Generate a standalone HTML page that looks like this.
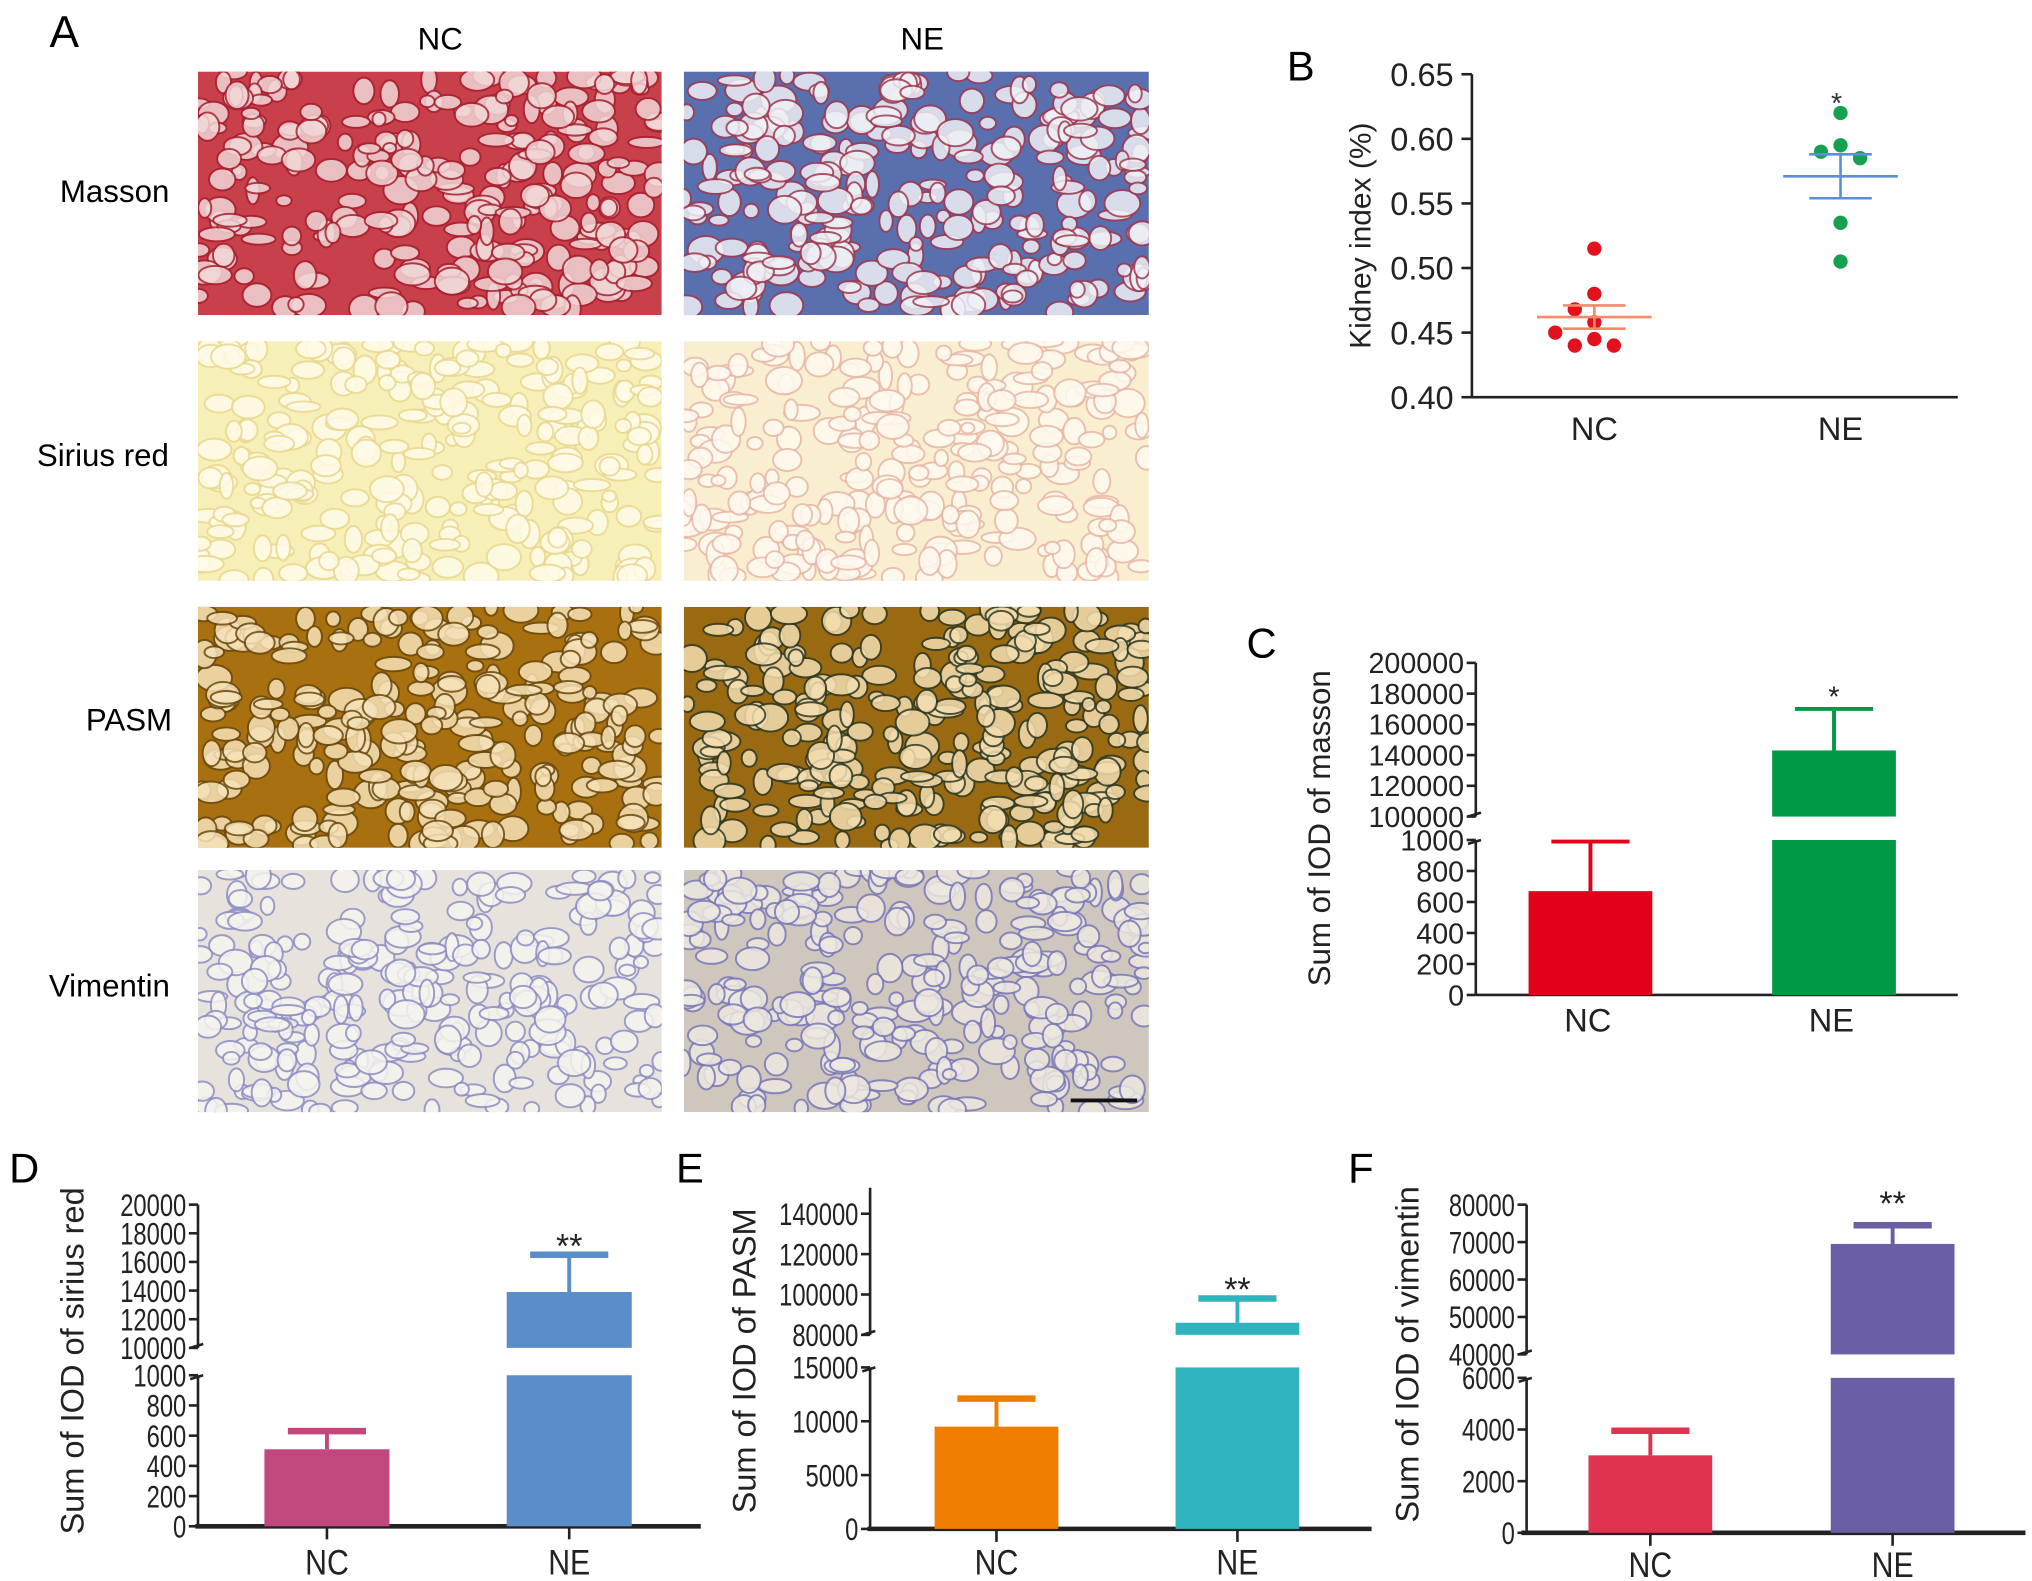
<!DOCTYPE html>
<html><head><meta charset="utf-8"><style>
html,body{margin:0;padding:0;background:#fff;}
svg{display:block;font-family:"Liberation Sans",Arial,sans-serif;}
</style></head><body>
<svg id="fig" width="2032" height="1581" viewBox="0 0 1560 1214" preserveAspectRatio="none" xmlns="http://www.w3.org/2000/svg">
<rect width="1560" height="1214" fill="#fff"/>
<g id="panelA">
<text x="38" y="36" font-size="34">A</text>
<text x="338" y="38" font-size="24" text-anchor="middle">NC</text>
<text x="708" y="38" font-size="24" text-anchor="middle">NE</text>
<text x="88" y="155" font-size="24" text-anchor="middle">Masson</text>
<text x="79" y="358" font-size="24" text-anchor="middle">Sirius red</text>
<text x="99" y="561" font-size="24" text-anchor="middle">PASM</text>
<text x="84" y="765" font-size="24" text-anchor="middle">Vimentin</text>
<g id="tiles"></g>
</g>
<g id="panelB"></g>
<g id="panelC"></g>
<g id="panelD"></g>
<g id="panelE"></g>
<g id="panelF"></g>
</svg>
<script>
// ---------- Chart data ----------
const categories = ['NC', 'NE'];
// Panel B: kidney index (%)
const bTicks = [0.40, 0.45, 0.50, 0.55, 0.60, 0.65];
const bPointsNC = [0.515, 0.480, 0.468, 0.458, 0.445, 0.440, 0.440, 0.450];
const bPointsNE = [0.620, 0.595, 0.590, 0.585, 0.535, 0.505];
const bMeans = [0.462, 0.571];
const bSems = [0.009, 0.017];
// Panel C: masson
const cMeans = [670, 143000];
const cErrTop = [990, 170000];
const cLowTicks = [0, 200, 400, 600, 800, 1000];
const cUpTicks = [100000, 120000, 140000, 160000, 180000, 200000];
// Panel D: sirius red
const dMeans = [510, 13900];
const dErrTop = [630, 16500];
const dLowTicks = [0, 200, 400, 600, 800, 1000];
const dUpTicks = [10000, 12000, 14000, 16000, 18000, 20000];
// Panel E: PASM
const eMeans = [9500, 86000];
const eErrTop = [12100, 98000];
const eLowTicks = [0, 5000, 10000, 15000];
const eUpTicks = [80000, 100000, 120000, 140000];
// Panel F: vimentin
const fMeans = [3000, 69500];
const fErrTop = [3950, 74500];
const fLowTicks = [0, 2000, 4000, 6000];
const fUpTicks = [40000, 50000, 60000, 70000, 80000];

const NS = 'http://www.w3.org/2000/svg';
function mk(parent, tag, attrs, text) {
  const e = document.createElementNS(NS, tag);
  for (const k in attrs) e.setAttribute(k, attrs[k]);
  if (text !== undefined) e.textContent = text;
  parent.appendChild(e);
  return e;
}

// ---------- Panel A textures ----------
let seed = 7;
function rnd() { seed = (seed * 16807) % 2147483647; return (seed - 1) / 2147483646; }
const tiles = document.getElementById('tiles');
const cols = [152, 525], colW = [356, 357];
const rows = [[55, 187], [262, 184], [466, 185], [668, 186]];
const styles = [
  [{bg:'#c8404a', fg:'#f1d6d6', ed:'#a82030'}, {bg:'#5a6fae', fg:'#eef0f6', ed:'#a03a52'}],
  [{bg:'#f7efb8', fg:'#fffbe8', ed:'#e9d890'}, {bg:'#f9efd0', fg:'#fffaf0', ed:'#e8b8a8'}],
  [{bg:'#a8700e', fg:'#f6e2b8', ed:'#6a4a10'}, {bg:'#9a6a12', fg:'#f4deb0', ed:'#2f3a24'}],
  [{bg:'#e7e3dc', fg:'#f6f4ef', ed:'#8e8ec4'}, {bg:'#cfc6bd', fg:'#ede8e0', ed:'#7a78b8'}]
];
const tileNames = ['masson', 'sirius-red', 'pasm', 'vimentin'];
rows.forEach((r, ri) => {
  cols.forEach((cx, ci) => {
    const st = styles[ri][ci];
    const g = mk(tiles, 'g', {});
    
    
    const cid = 'clip' + ri + ci;
    const cp = mk(g, 'clipPath', {id: cid});
    mk(cp, 'rect', {x: cx, y: r[0], width: colW[ci], height: r[1]});
    const inner = mk(g, 'g', {'clip-path': 'url(#' + cid + ')'});
    mk(inner, 'rect', {x: cx, y: r[0], width: colW[ci], height: r[1], fill: st.bg});
    for (let i = 0; i < 260; i++) {
      const x = cx + rnd() * colW[ci], y = r[0] + rnd() * r[1];
      const rx = 5 + rnd() * 9, ry = 4 + rnd() * 7;
      mk(inner, 'ellipse', {cx: x, cy: y, rx: rx, ry: ry, fill: st.fg, stroke: st.ed, 'stroke-width': 1.5, opacity: 0.85});
    }
  });
});
const sb = mk(tiles, 'line', {x1: 822, y1: 845, x2: 873, y2: 845, stroke: '#111', 'stroke-width': 3});



// ---------- Panel B ----------
(function () {
  const g = document.getElementById('panelB');
  const x0 = 1130, y0 = 305, y1 = 57, xEnd = 1503;
  const xc = [1224, 1413];
  const vmin = bTicks[0], vmax = bTicks[bTicks.length - 1];
  const ys = v => y0 - (v - vmin) / (vmax - vmin) * (y0 - y1);
  const lbl = mk(g, 'text', {x: 988, y: 62, 'font-size': 32}, 'B');
  
  
  const ax = mk(g, 'path', {d: `M${x0},${y1} V${y0} H${xEnd}`, stroke: '#222', 'stroke-width': 2, fill: 'none'});
  
  
  bTicks.forEach(t => {
    mk(g, 'line', {x1: x0 - 8, x2: x0, y1: ys(t), y2: ys(t), stroke: '#222', 'stroke-width': 2});
    const tl = mk(g, 'text', {x: x0 - 14, y: ys(t) + 9, 'font-size': 25, 'text-anchor': 'end', fill: '#222'}, t.toFixed(2));
    
    
  });
  categories.forEach((c, i) => {
    const tl = mk(g, 'text', {x: xc[i], y: 338, 'font-size': 25, 'text-anchor': 'middle', fill: '#222'}, c);
    
    
  });
  const yt = mk(g, 'text', {x: 0, y: 0, 'font-size': 23, 'text-anchor': 'middle', fill: '#222', transform: `translate(1052,181) rotate(-90)`}, 'Kidney index (%)');
  
  
  const sets = [bPointsNC, bPointsNE];
  const pc = ['#e3111e', '#16a050'], lc = ['#f08a6a', '#5a8fd8'];
  sets.forEach((pts, i) => {
    const placed = [];
    pts.forEach(v => {
      const y = ys(v);
      const order = [0, -1, 1, -2, 2, 3, -3];
      let x = xc[i];
      for (const o of order) {
        const tx = xc[i] + o * 15;
        if (!placed.some(p => Math.hypot(p[0] - tx, p[1] - y) < 12)) { x = tx; break; }
      }
      placed.push([x, y]);
      const d = mk(g, 'circle', {cx: x, cy: y, r: 5.5, fill: pc[i]});
      
      
    });
    const m = ys(bMeans[i]), hi = ys(bMeans[i] + bSems[i]), lo = ys(bMeans[i] - bSems[i]);
    const eg = mk(g, 'g', {stroke: lc[i], 'stroke-width': 2});
    
    
    mk(eg, 'line', {x1: xc[i] - 44, x2: xc[i] + 44, y1: m, y2: m});
    mk(eg, 'line', {x1: xc[i] - 24, x2: xc[i] + 24, y1: hi, y2: hi});
    mk(eg, 'line', {x1: xc[i] - 24, x2: xc[i] + 24, y1: lo, y2: lo});
    mk(eg, 'line', {x1: xc[i], x2: xc[i], y1: hi, y2: lo});
  });
  const st = mk(g, 'text', {x: xc[1] - 3, y: ys(0.63) + 10, 'font-size': 22, 'text-anchor': 'middle', fill: '#333'}, '*');
  
  
})();

// ---------- Broken-axis bar panels ----------
function brokenPanel(o) {
  const g = document.getElementById(o.id);
  const L = o.lowTicks, U = o.upTicks;
  const lowMax = L[L.length - 1], upMin = U[0], upMax = U[U.length - 1];
  const yLow = v => o.yZero - v / lowMax * (o.yZero - o.yLowTop);
  const yUp = v => o.yUpBot - (v - upMin) / (upMax - upMin) * (o.yUpBot - o.yUpTop);
  const ymap = v => v <= lowMax ? yLow(v) : yUp(Math.max(v, upMin));
  const condensed = o.condensed;
  function txt(x, y, s, size, anchor, name, sx) {
    const attrs = {x: x, y: y, 'font-size': size, 'text-anchor': anchor, fill: '#222'};
    const t = mk(g, 'text', attrs, s);
    if (condensed && sx !== 1) {
      t.setAttribute('transform', `translate(${x},0) scale(${sx},1) translate(${-x},0)`);
    }
    
    
    return t;
  }
  const pl = mk(g, 'text', {x: o.labelPos[0], y: o.labelPos[1], 'font-size': 32}, o.label);
  
  
  const ax = mk(g, 'g', {stroke: '#222', 'stroke-width': 2, fill: 'none'});
  
  
  mk(ax, 'line', {x1: o.x0, x2: o.x0, y1: o.axisTop, y2: o.yUpBot});
  mk(ax, 'line', {x1: o.x0, x2: o.x0, y1: o.yLowTop, y2: o.yZero});
  mk(ax, 'line', {x1: o.x0 - 6, x2: o.x0 + 4, y1: o.yUpBot, y2: o.yUpBot - 3});
  mk(ax, 'line', {x1: o.x0 - 6, x2: o.x0 + 4, y1: o.yLowTop + 3, y2: o.yLowTop});
  mk(ax, 'line', {x1: o.xAxisStart, x2: o.xEnd, y1: o.yZero, y2: o.yZero, 'stroke-width': condensed ? 3.5 : 2});
  const lab = v => String(v);
  L.forEach(t => {
    mk(ax, 'line', {x1: o.x0 - 7, x2: o.x0, y1: yLow(t), y2: yLow(t)});
    txt(o.x0 - 9, yLow(t) + o.fs * 0.36, lab(t), o.fs, 'end', o.label.toLowerCase() + '-y-tick-label', 0.76);
  });
  U.forEach(t => {
    mk(ax, 'line', {x1: o.x0 - 7, x2: o.x0, y1: yUp(t), y2: yUp(t)});
    txt(o.x0 - 9, yUp(t) + o.fs * 0.36, lab(t), o.fs, 'end', o.label.toLowerCase() + '-y-tick-label', 0.76);
  });
  o.means.forEach((v, i) => {
    const cx = o.xc[i], bw = o.barW;
    const bg = mk(g, 'g', {fill: o.colors[i]});
    
    
    const lowTopV = Math.min(v, lowMax);
    mk(bg, 'rect', {x: cx - bw / 2, y: yLow(lowTopV), width: bw, height: o.yZero - yLow(lowTopV)});
    if (v > lowMax) {
      mk(bg, 'rect', {x: cx - bw / 2, y: yUp(v), width: bw, height: o.yUpBot - yUp(v)});
    }
    const top = ymap(o.err[i]);
    const eb = mk(g, 'g', {stroke: o.colors[i], 'stroke-width': 3});
    
    
    mk(eb, 'line', {x1: cx, x2: cx, y1: ymap(v), y2: top});
    mk(eb, 'line', {x1: cx - 30, x2: cx + 30, y1: top, y2: top, 'stroke-width': condensed ? 5 : 3});
    if (condensed) mk(ax, 'line', {x1: cx, x2: cx, y1: o.yZero, y2: o.yZero + 10});
    txt(cx + (condensed ? 0 : -2), o.xLabY, categories[i], o.xfs, 'middle', o.label.toLowerCase() + '-x-tick-label', 0.86);
  });
  txt(o.xc[1], ymap(o.err[1]) - o.starGap, o.star, condensed ? 26 : 22, 'middle', o.label.toLowerCase() + '-significance-mark', 1);
  const yt = mk(g, 'text', {x: 0, y: 0, 'font-size': o.titleFs, 'text-anchor': 'middle', fill: '#222',
    transform: `translate(${o.titlePos[0]},${o.titlePos[1]}) rotate(-90)`}, o.title);
  
  
}

brokenPanel({id: 'panelC', label: 'C', labelPos: [957, 505], x0: 1133, xAxisStart: 1133, xEnd: 1503,
  yZero: 764, yLowTop: 645, yUpBot: 627, yUpTop: 509, axisTop: 509,
  lowTicks: cLowTicks, upTicks: cUpTicks, means: cMeans, err: cErrTop,
  xc: [1221, 1408], barW: 95, colors: ['#e3001b', '#009a44'], fs: 22, xfs: 25, xLabY: 792,
  condensed: false, star: '*', starGap: 2, title: 'Sum of IOD of masson', titleFs: 24, titlePos: [1021, 636]});

brokenPanel({id: 'panelD', label: 'D', labelPos: [7, 908], x0: 152, xAxisStart: 150, xEnd: 538,
  yZero: 1172, yLowTop: 1056, yUpBot: 1035, yUpTop: 925, axisTop: 925,
  lowTicks: dLowTicks, upTicks: dUpTicks, means: dMeans, err: dErrTop,
  xc: [251, 437], barW: 96, colors: ['#c0487c', '#5b8dc9'], fs: 24, xfs: 27, xLabY: 1209,
  condensed: true, star: '**', starGap: -2, title: 'Sum of IOD of sirius red', titleFs: 25, titlePos: [64, 1045]});

brokenPanel({id: 'panelE', label: 'E', labelPos: [519, 908], x0: 668, xAxisStart: 666, xEnd: 1053,
  yZero: 1174, yLowTop: 1050, yUpBot: 1025, yUpTop: 932, axisTop: 912,
  lowTicks: eLowTicks, upTicks: eUpTicks, means: eMeans, err: eErrTop,
  xc: [765, 950], barW: 95, colors: ['#ef7d00', '#2fb3be'], fs: 24, xfs: 27, xLabY: 1209,
  condensed: true, star: '**', starGap: -2, title: 'Sum of IOD of PASM', titleFs: 25, titlePos: [580, 1045]});

brokenPanel({id: 'panelF', label: 'F', labelPos: [1035, 908], x0: 1172, xAxisStart: 1168, xEnd: 1555,
  yZero: 1177, yLowTop: 1058, yUpBot: 1040, yUpTop: 925, axisTop: 925,
  lowTicks: fLowTicks, upTicks: fUpTicks, means: fMeans, err: fErrTop,
  xc: [1267, 1453], barW: 95, colors: ['#e0334f', '#6a5fa6'], fs: 24, xfs: 27, xLabY: 1211,
  condensed: true, star: '**', starGap: 8, title: 'Sum of IOD of vimentin', titleFs: 25, titlePos: [1089, 1040]});
</script>
</body></html>
